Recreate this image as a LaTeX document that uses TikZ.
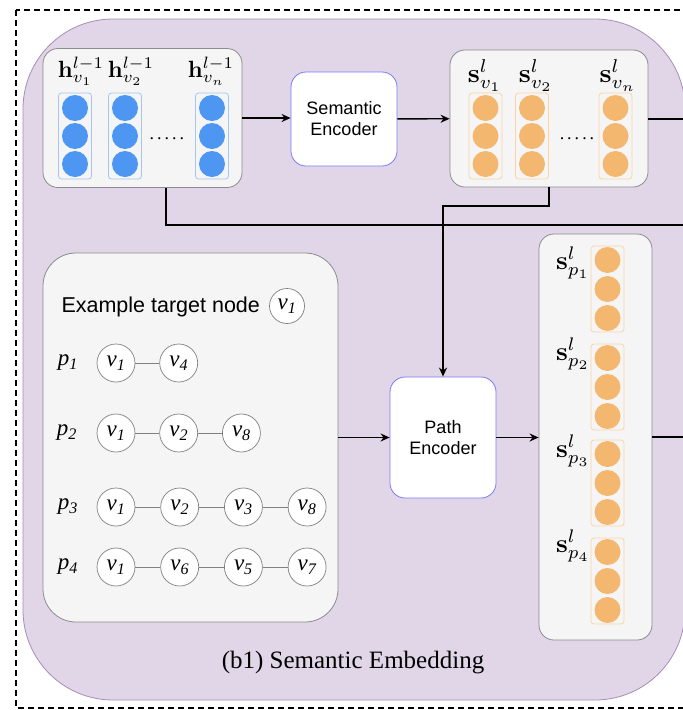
\documentclass[tikz,border=0pt]{standalone}
\usepackage{amsmath, amssymb}
\usepackage[no-math]{fontspec}
\setmainfont{Liberation Serif}
\setsansfont{Liberation Sans}
\usetikzlibrary{positioning, arrows.meta}

\definecolor{embFill}{RGB}{225,214,231}
\definecolor{embLine}{RGB}{168,140,182}
\definecolor{panelFill}{RGB}{245,245,245}
\definecolor{panelLine}{RGB}{140,140,140}
\definecolor{encLine}{RGB}{122,122,250}
\definecolor{blueDot}{RGB}{77,150,242}
\definecolor{blueLine}{RGB}{166,198,240}
\definecolor{orangeDot}{RGB}{244,183,112}
\definecolor{orangeLine}{RGB}{252,212,168}

\newcommand{\embtext}[2][2.35]{\scalebox{#1}{$#2$}}

\begin{document}
\begin{tikzpicture}[x=1pt, y=-1pt, node distance={24pt},
  panel/.style = {draw=panelLine, fill=panelFill, rounded corners=15pt, line width=0.8pt, inner sep=0pt},
  enc/.style = {draw=encLine, fill=white, rounded corners=15pt, line width=0.8pt, minimum width=106pt, align=center, font=\sffamily\fontsize{18}{21}\selectfont},
  bluecol/.style = {draw=blueLine, rounded corners=3pt, line width=0.8pt, minimum width=33pt, minimum height=86pt},
  orangecol/.style = {draw=orangeLine, rounded corners=3pt, line width=0.8pt, minimum width=33pt, minimum height=86pt},
  bluedot/.style = {circle, fill=blueDot, minimum size=26pt, inner sep=0pt},
  orangedot/.style = {circle, fill=orangeDot, minimum size=26pt, inner sep=0pt},
  emb/.style = {anchor=base, inner sep=0pt},
  vnode/.style = {draw=gray, fill=white, circle, minimum size=38pt, inner sep=0pt, line width=0.7pt, font=\fontsize{23}{23}\selectfont\itshape},
  plab/.style = {font=\fontsize{23}{23}\selectfont\itshape},
  arr/.style = {-{Stealth[length=9pt, width=8pt]}, line width=1.4pt},
  wire/.style = {line width=1.4pt},
  link/.style = {draw=gray, line width=0.8pt}]
\useasboundingbox (0,0) rectangle (683,710);

% outer frame and block
\draw[line width=1.2pt, dash pattern=on 6pt off 4pt] (16,10) rectangle (700,708);
\draw[fill=embFill, draw=embLine, line width=0.8pt, rounded corners=90pt] (23,19) rectangle (685,700);
\node[font=\fontsize{25}{25}\selectfont] (caption) at (353,663) {(b1) Semantic Embedding};

% node embeddings h
\node[panel, minimum width=199pt, minimum height=139pt] (hpanel) at (142.5,118) {};
\foreach \cx/\lx/\sub [count=\i] in {75/81/v_1, 125/131/v_2, 212/211/v_n} {
  \node[bluecol] (hcol\i) at (\cx,136) {};
  \foreach \cy [count=\j] in {108,136,164}
    \node[bluedot] (hdot\i\j) at (\cx,\cy) {};
  \node[emb] (hlab\i) at (\lx,77) {\embtext{\mathbf{h}^{l-1}_{\sub}}};
}
\node[anchor=base, font=\fontsize{18}{18}\selectfont] (hdots) at (167,139) {.\,.\,.\,.\,.};

\node[enc, minimum height=94pt] (semenc) at (344,119) {Semantic\\Encoder};

% semantic embeddings s
\node[panel, minimum width=198pt, minimum height=137pt] (spanel) at (549,118.5) {};
\foreach \cx/\lx/\sub [count=\i] in {485.5/485/v_1, 532/536/v_2, 615.5/618/v_n} {
  \node[orangecol] (scol\i) at (\cx,136) {};
  \foreach \cy [count=\j] in {108,136,164}
    \node[orangedot] (sdot\i\j) at (\cx,\cy) {};
  \node[emb] (slab\i) at (\lx,82) {\embtext[2.65]{\mathbf{s}^{l}_{\sub}}};
}
\node[anchor=base, font=\fontsize{18}{18}\selectfont] (sdots) at (577,139) {.\,.\,.\,.\,.};

% example paths
\node[panel, rounded corners=33pt, minimum width=295pt, minimum height=369pt] (ppanel) at (190.5,437.5) {};
\node[anchor=west, font=\sffamily\fontsize{21.5}{24}\selectfont] (extext) at (58,307) {Example target node};
\node[vnode, minimum size=35pt] (target) at (287,306) {v\textsubscript{\textit{1}}};

\node[plab] (p1) at (68,363) {p\textsubscript{\textit{1}}};
\node[vnode] (a1) at (116,363) {v\textsubscript{\textit{1}}};
\node[vnode] (a2) [right=of a1] {v\textsubscript{\textit{4}}};
\draw[link] (a1) -- (a2);

\node[plab] (p2) at (67,433) {p\textsubscript{\textit{2}}};
\node[vnode] (b1) at (116,433) {v\textsubscript{\textit{1}}};
\node[vnode] (b2) [right=of b1] {v\textsubscript{\textit{2}}};
\node[vnode] (b3) [right=of b2] {v\textsubscript{\textit{8}}};
\draw[link] (b1) -- (b2) -- (b3);

\node[plab] (p3) at (68,507) {p\textsubscript{\textit{3}}};
\node[vnode] (c1) at (116,507) {v\textsubscript{\textit{1}}};
\node[vnode] (c2) [right=25pt of c1] {v\textsubscript{\textit{2}}};
\node[vnode] (c3) [right=25pt of c2] {v\textsubscript{\textit{3}}};
\node[vnode] (c4) [right=25pt of c3] {v\textsubscript{\textit{8}}};
\draw[link] (c1) -- (c2) -- (c3) -- (c4);

\node[plab] (p4) at (68,567) {p\textsubscript{\textit{4}}};
\node[vnode] (d1) at (116,567) {v\textsubscript{\textit{1}}};
\node[vnode] (d2) [right=25pt of d1] {v\textsubscript{\textit{6}}};
\node[vnode] (d3) [right=25pt of d2] {v\textsubscript{\textit{5}}};
\node[vnode] (d4) [right=25pt of d3] {v\textsubscript{\textit{7}}};
\draw[link] (d1) -- (d2) -- (d3) -- (d4);

\node[enc, minimum height=121pt] (pathenc) at (443,437.5) {Path\\Encoder};

% path embeddings
\node[panel, minimum width=113pt, minimum height=406pt] (sppanel) at (595.5,437) {};
\foreach \top/\base [count=\i] in {246/269, 344/360, 440/457, 538/552} {
  \node[orangecol] (pcol\i) at (607.5,\top+43) {};
  \foreach \dy [count=\j] in {14,43,72}
    \node[orangedot] (pdot\i\j) at (607.5,\top+\dy) {};
  \node[emb] (plab\i) at (573,\base) {\embtext[2.6]{\mathbf{s}^{l}_{p_{\i}}}};
}

% connectors
\coordinate (outA) at (695,119);
\coordinate (outB) at (695,225);
\coordinate (outC) at (695,437);
\coordinate (hdrop) at (166,225);
\coordinate (sbend) at (549,206);

\draw[arr] (hpanel.east) -- (hpanel.east -| semenc.west);
\draw[arr] (semenc) -- (spanel);
\draw[wire] (spanel.east |- outA) -- (outA);
\draw[wire] (hpanel.south -| hdrop) -- (hdrop) -- (outB);
\draw[arr] (spanel.south -| sbend) -- (sbend) -| (pathenc.north);
\draw[arr] (ppanel) -- (pathenc);
\draw[arr] (pathenc) -- (pathenc -| sppanel.west);
\draw[wire] (sppanel.east |- outC) -- (outC);
\end{tikzpicture}
\end{document}
